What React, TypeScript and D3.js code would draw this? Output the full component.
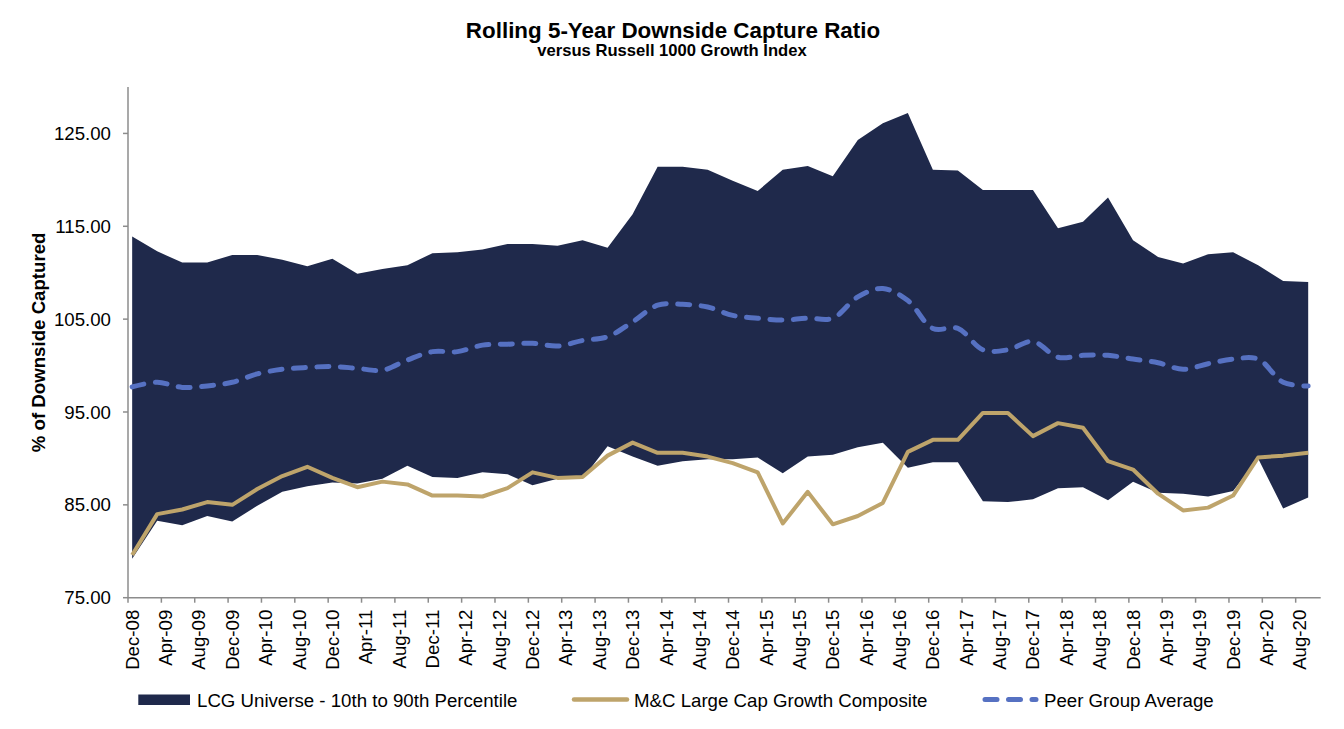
import React from "react";
import * as d3 from "d3";

const quarters = [
  "Dec-08","Mar-09","Jun-09","Sep-09","Dec-09","Mar-10","Jun-10","Sep-10","Dec-10","Mar-11","Jun-11","Sep-11",
  "Dec-11","Mar-12","Jun-12","Sep-12","Dec-12","Mar-13","Jun-13","Sep-13","Dec-13","Mar-14","Jun-14","Sep-14",
  "Dec-14","Mar-15","Jun-15","Sep-15","Dec-15","Mar-16","Jun-16","Sep-16","Dec-16","Mar-17","Jun-17","Sep-17",
  "Dec-17","Mar-18","Jun-18","Sep-18","Dec-18","Mar-19","Jun-19","Sep-19","Dec-19","Mar-20","Jun-20","Sep-20",
];

const p90 = [113.9,112.3,111.1,111.1,111.9,111.9,111.4,110.7,111.5,109.9,110.4,110.8,112.1,112.2,112.5,113.1,113.1,112.9,113.5,112.7,116.3,121.4,121.4,121.1,119.9,118.8,121.1,121.5,120.4,124.3,126.1,127.2,121.1,121.0,118.9,118.9,118.9,114.8,115.5,118.1,113.5,111.7,111.0,112.0,112.2,110.8,109.1,109.0];
const p10 = [79.2,83.3,82.8,83.8,83.2,84.9,86.4,87.0,87.4,87.3,87.8,89.2,88.0,87.9,88.5,88.3,87.1,87.8,87.8,91.3,90.2,89.2,89.7,89.9,89.9,90.1,88.4,90.2,90.4,91.2,91.7,89.0,89.6,89.6,85.4,85.3,85.6,86.8,86.9,85.5,87.5,86.3,86.2,85.9,86.5,90.0,84.6,85.8];
const mcComposite = [79.6,84.0,84.5,85.3,85.0,86.7,88.1,89.1,87.9,86.9,87.5,87.2,86.0,86.0,85.9,86.8,88.5,87.9,88.0,90.3,91.7,90.6,90.6,90.2,89.5,88.5,83.0,86.4,82.9,83.8,85.2,90.7,92.0,92.0,94.9,94.9,92.4,93.8,93.3,89.7,88.8,86.2,84.4,84.7,86.0,90.1,90.3,90.6];
const peerAvg = [97.7,98.2,97.65,97.8,98.2,99.1,99.6,99.8,99.9,99.7,99.5,100.6,101.5,101.5,102.2,102.3,102.4,102.1,102.7,103.1,104.7,106.5,106.6,106.3,105.4,105.1,104.9,105.1,105.1,107.4,108.3,107.0,104.0,104.0,101.7,101.7,102.6,100.9,101.1,101.1,100.7,100.3,99.6,100.2,100.7,100.7,98.2,97.8];

const xTickLabels = [
  "Dec-08","Apr-09","Aug-09","Dec-09","Apr-10","Aug-10","Dec-10","Apr-11","Aug-11","Dec-11","Apr-12","Aug-12",
  "Dec-12","Apr-13","Aug-13","Dec-13","Apr-14","Aug-14","Dec-14","Apr-15","Aug-15","Dec-15","Apr-16","Aug-16",
  "Dec-16","Apr-17","Aug-17","Dec-17","Apr-18","Aug-18","Dec-18","Apr-19","Aug-19","Dec-19","Apr-20","Aug-20",
];
const yTicks = [75, 85, 95, 105, 115, 125];

const legendLabels = [
  "LCG Universe - 10th to 90th Percentile",
  "M&C Large Cap Growth Composite",
  "Peer Group Average",
];

const NAVY = "#1f294b";
const GOLD = "#bea46b";
const BLUE = "#5671c2";
const AXIS = "#8c8c8c";
const FONT = "'Liberation Sans', Arial, sans-serif";

export default function App() {
  const W = 1344, H = 729;
  const left = 128, right = 1320.7, top = 87, bottom = 597.7;
  const totalMonths = 143;

  const x = d3.scaleLinear().domain([0, totalMonths]).range([left, right]);
  const y = d3.scaleLinear().domain([75, 130]).range([bottom, top]);

  const monthOfQuarter = (i: number) => i * 3 + 0.5;

  const idx = quarters.map((_, i) => i);
  const area = d3.area<number>()
    .x((i) => x(monthOfQuarter(i)))
    .y0((i) => y(p10[i]))
    .y1((i) => y(p90[i]))
    .curve(d3.curveLinear);
  const mcLine = d3.line<number>()
    .x((i) => x(monthOfQuarter(i)))
    .y((i) => y(mcComposite[i]))
    .curve(d3.curveLinear);
  const peerLine = d3.line<number>()
    .x((i) => x(monthOfQuarter(i)))
    .y((i) => y(peerAvg[i]))
    .curve(d3.curveCatmullRom.alpha(0.5));

  const fmt = d3.format(".2f");

  return (
    <svg width={W} height={H} style={{ position: "absolute", left: 0, top: 0, background: "#fff" }} fontFamily={FONT}>
      <text x={673} y={38} textAnchor="middle" fontSize={22.4} fontWeight="bold" fill="#000">
        Rolling 5-Year Downside Capture Ratio
      </text>
      <text x={672} y={56} textAnchor="middle" fontSize={16.6} fontWeight="bold" fill="#000">
        versus Russell 1000 Growth Index
      </text>

      <path d={area(idx) || ""} fill={NAVY} />
      <path d={peerLine(idx) || ""} fill="none" stroke={BLUE} strokeWidth={5}
        strokeDasharray="12 11.5" strokeLinecap="round" />
      <path d={mcLine(idx) || ""} fill="none" stroke={GOLD} strokeWidth={4}
        strokeLinejoin="round" />

      {/* y axis */}
      <line x1={left} x2={left} y1={top} y2={bottom} stroke={AXIS} strokeWidth={1.5} />
      {yTicks.map((t) => (
        <g key={t}>
          <line x1={left - 5} x2={left} y1={y(t)} y2={y(t)} stroke={AXIS} strokeWidth={1.5} />
          <text x={111} y={y(t)} dy="0.35em" textAnchor="end" fontSize={18.67} fill="#000">
            {fmt(t)}
          </text>
        </g>
      ))}
      <text transform={`translate(45,${(top + bottom) / 2}) rotate(-90)`} textAnchor="middle"
        fontSize={18.67} fontWeight="bold" fill="#000">
        % of Downside Captured
      </text>

      {/* x axis */}
      <line x1={left} x2={right} y1={bottom} y2={bottom} stroke={AXIS} strokeWidth={1.5} />
      {xTickLabels.map((lab, k) => {
        const m = k * 4;
        return (
          <g key={lab}>
            <line x1={x(m)} x2={x(m)} y1={bottom} y2={bottom + 5} stroke={AXIS} strokeWidth={1.5} />
            <text transform={`translate(${x(m + 0.5)},${bottom + 12}) rotate(-90)`} dy="0.35em"
              textAnchor="end" fontSize={18.67} fill="#000">
              {lab}
            </text>
          </g>
        );
      })}

      {/* legend */}
      <rect x={138.3} y={694.5} width={51.7} height={10.5} fill={NAVY} />
      <text x={197} y={706.5} fontSize={18.67} fill="#000">{legendLabels[0]}</text>
      <line x1={574} x2={627} y1={699.5} y2={699.5} stroke={GOLD} strokeWidth={4.5} strokeLinecap="round" />
      <text x={634} y={706.5} fontSize={18.67} fill="#000">{legendLabels[1]}</text>
      <line x1={985} x2={1036} y1={699.5} y2={699.5} stroke={BLUE} strokeWidth={5}
        strokeDasharray="12 11.5" strokeLinecap="round" />
      <text x={1044} y={706.5} fontSize={18.67} fill="#000">{legendLabels[2]}</text>
    </svg>
  );
}
